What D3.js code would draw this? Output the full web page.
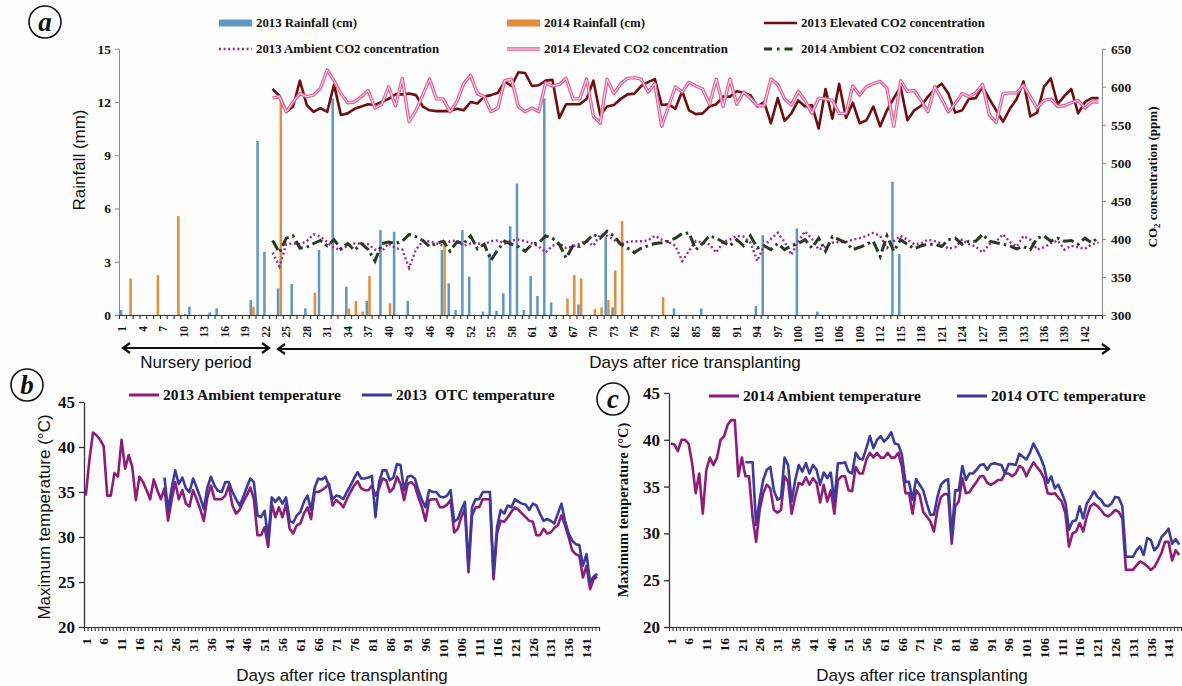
<!DOCTYPE html>
<html>
<head>
<meta charset="utf-8">
<script src="https://cdn.jsdelivr.net/npm/d3@7"></script>
<style>
  body { margin: 0; background: #fdfdfd; }
  svg { display: block; }
  .serif { font-family: "Liberation Serif", "Times New Roman", serif; font-weight: bold; }
  .sans { font-family: "Liberation Sans", Arial, sans-serif; }
</style>
</head>
<body>
<div id="chart"></div>
<script>
// ---------- data ----------
const dayCats = d3.range(1, 145);          // 144 days on every x axis
const aLabelDays = d3.range(1, 145, 3);    // 1,4,7,...,142
const bcLabelDays = d3.range(1, 145, 5);   // 1,6,11,...,141
const rainTicks = [0, 3, 6, 9, 12, 15];
const co2Ticks = [300, 350, 400, 450, 500, 550, 600, 650];
const tempTicks = [20, 25, 30, 35, 40, 45];

// rainfall bars (day, value)
const rain2013Days = [1, 11, 14, 15, 20, 21, 22, 24, 26, 28, 30, 32, 34, 37, 39, 41, 43, 48, 49, 50, 51, 52, 54, 55, 56, 57, 58, 59, 60, 61, 62, 63, 64, 68, 72, 73, 82, 86, 94, 95, 100, 103, 114, 115];
const rain2013Vals = [0.28, 0.47, 0.15, 0.37, 0.85, 9.8, 3.56, 1.5, 1.75, 0.37, 3.66, 12.2, 1.6, 0.79, 4.78, 4.69, 0.79, 3.66, 1.78, 0.28, 4.78, 2.16, 0.19, 3.47, 0.24, 1.22, 5.0, 7.41, 0.28, 2.2, 1.07, 12.2, 0.71, 0.6, 4.41, 0.43, 0.37, 0.37, 0.5, 4.5, 4.88, 0.19, 7.5, 3.43];
const rain2014Days = [2, 6, 9, 10, 20, 24, 29, 34, 35, 36, 37, 40, 48, 66, 67, 68, 70, 71, 72, 73, 74, 80];
const rain2014Vals = [2.06, 2.25, 5.57, 0.06, 0.47, 12.1, 1.26, 0.37, 0.79, 0.19, 2.2, 0.66, 4.2, 0.94, 2.25, 2.06, 0.32, 0.43, 0.84, 2.5, 5.3, 1.0];

// CO2 series, day 23 .. 144
const co2Start = 23;
const co2Elev2013 = [597, 588, 567, 574, 608, 576, 567, 572, 567, 603,
  563, 565, 571, 574, 577, 576, 580, 584, 590, 590,
  591, 589, 574, 569, 568, 568, 568, 571, 569, 580,
  578, 587, 589, 592, 607, 601, 619, 618, 601, 602,
  608, 609, 559, 577, 577, 577, 584, 608, 563, 574,
  576, 584, 590, 591, 601, 606, 610, 576, 577, 571,
  594, 569, 564, 565, 574, 577, 587, 587, 594, 592,
  589, 574, 580, 552, 585, 555, 565, 582, 574, 576,
  545, 597, 558, 604, 559, 579, 552, 556, 574, 548,
  569, 585, 600, 556, 569, 575, 587, 597, 604, 591,
  566, 569, 584, 585, 600, 584, 569, 554, 571, 584,
  607, 561, 566, 600, 611, 577, 588, 597, 565, 580,
  585, 585];
const co2Amb2013 = [382, 364, 393, 394, 393, 397, 406, 403, 396, 388,
  386, 391, 394, 394, 393, 386, 384, 394, 388, 386,
  362, 386, 397, 397, 394, 391, 397, 398, 391, 394,
  394, 393, 397, 398, 394, 398, 399, 397, 394, 390,
  382, 391, 394, 388, 390, 394, 397, 391, 406, 404,
  399, 393, 396, 397, 397, 398, 404, 399, 396, 391,
  371, 384, 397, 395, 393, 382, 396, 399, 404, 403,
  395, 371, 391, 400, 408, 396, 379, 397, 410, 400,
  386, 390, 395, 396, 396, 399, 401, 404, 408, 404,
  388, 397, 404, 399, 393, 394, 399, 397, 394, 387,
  389, 399, 393, 390, 382, 393, 397, 406, 396, 390,
  404, 399, 386, 389, 394, 398, 386, 391, 389, 387,
  393, 395];
const co2Elev2014 = [585, 587, 567, 580, 591, 587, 589, 598, 622, 608,
  591, 579, 580, 587, 595, 572, 577, 600, 575, 611,
  554, 569, 589, 610, 584, 584, 567, 580, 604, 615,
  591, 587, 567, 572, 608, 610, 574, 567, 572, 567,
  605, 601, 603, 611, 584, 584, 610, 561, 552, 610,
  591, 604, 611, 612, 610, 593, 604, 548, 574, 600,
  593, 606, 601, 597, 577, 610, 574, 610, 577, 593,
  585, 575, 575, 610, 603, 584, 576, 594, 582, 565,
  585, 584, 582, 565, 565, 601, 589, 600, 604, 607,
  598, 548, 608, 594, 595, 582, 567, 600, 584, 567,
  578, 591, 587, 592, 603, 563, 553, 591, 592, 592,
  602, 587, 572, 582, 584, 574, 575, 579, 582, 572,
  580, 580];
const co2Amb2014 = [398, 382, 401, 404, 388, 389, 394, 398, 391, 399,
  387, 394, 385, 394, 386, 371, 394, 396, 394, 397,
  406, 403, 398, 390, 394, 397, 384, 396, 394, 404,
  387, 393, 372, 386, 397, 393, 390, 384, 393, 395,
  404, 401, 393, 375, 391, 390, 397, 406, 401, 410,
  404, 393, 388, 382, 388, 391, 394, 395, 397, 401,
  407, 408, 386, 394, 404, 401, 396, 391, 399, 391,
  404, 388, 391, 386, 394, 386, 391, 394, 399, 388,
  401, 384, 403, 399, 395, 386, 389, 393, 397, 377,
  404, 384, 399, 393, 387, 391, 393, 393, 390, 399,
  401, 393, 397, 397, 406, 397, 395, 393, 391, 387,
  390, 386, 401, 404, 397, 401, 397, 398, 393, 401,
  395, 402];

// maximum temperature 2013 (panel b)
const tAmb2013 = [34.6, 38.5, 41.6, 41.3, 40.8, 40.1, 34.6, 34.6, 37.1, 36.7,
  40.8, 37.6, 39.1, 37.8, 34.1, 36.7, 36.1, 35.2, 34.2, 36.4,
  35.2, 34.2, 35.4, 31.8, 34.1, 36.1, 34.2, 35.2, 33.7, 33.4,
  35.2, 34.2, 33.1, 31.8, 34.4, 35.7, 34.2, 34.2, 34.2, 34.6,
  35.7, 33.5, 32.6, 33.0, 33.9, 34.6, 35.5, 34.2, 30.2, 30.2,
  31.1, 28.9, 33.7, 32.2, 33.3, 32.2, 33.7, 30.9, 30.4, 31.3,
  31.5, 32.6, 33.3, 32.0, 35.0, 35.0, 35.2, 35.5, 35.9, 33.5,
  34.1, 33.8, 33.3, 34.2, 35.0, 35.7, 36.2, 35.4, 35.2, 35.2,
  35.7, 34.6, 35.4, 36.5, 36.3, 35.0, 35.4, 36.7, 35.9, 34.1,
  35.9, 36.1, 35.7, 34.4, 33.3, 31.8, 34.1, 34.2, 34.2, 33.3,
  33.3, 33.6, 34.1, 30.5, 30.9, 32.2, 33.1, 26.1, 32.4, 33.3,
  33.3, 34.2, 34.2, 34.2, 25.3, 30.4, 31.8, 31.7, 32.2, 32.8,
  33.3, 33.0, 32.6, 32.2, 31.8, 31.7, 30.2, 30.2, 30.9, 30.4,
  30.5, 31.0, 31.3, 32.4, 31.3, 30.0, 28.5, 28.1, 27.9, 25.5,
  26.8, 24.2, 25.3, 25.6];
const tOtcStart2013 = 23;
const tOtc2013 = [36.6, 33.0, 35.4, 37.4, 35.9, 36.6, 35.4, 35.0, 36.5, 35.5,
  34.4, 33.1, 35.5, 36.7, 35.7, 35.1, 35.0, 36.1, 36.1, 35.0,
  34.2, 33.5, 34.4, 35.5, 36.5, 36.1, 32.4, 32.2, 32.9, 29.8,
  34.4, 33.9, 34.4, 33.7, 34.4, 31.8, 31.6, 32.4, 32.8, 33.9,
  34.6, 33.0, 35.5, 36.5, 36.4, 36.7, 35.7, 34.2, 34.6, 34.5,
  34.2, 35.0, 35.7, 36.5, 37.2, 36.5, 36.5, 36.6, 36.8, 32.2,
  36.1, 37.4, 37.4, 36.3, 36.6, 38.1, 38.0, 35.2, 36.7, 36.8,
  36.5, 35.2, 34.1, 33.3, 35.2, 35.0, 35.0, 34.5, 34.4, 34.6,
  35.2, 31.7, 32.0, 33.0, 33.9, 26.8, 33.3, 34.2, 34.2, 35.0,
  35.0, 35.0, 25.9, 31.1, 33.0, 32.6, 33.5, 33.3, 34.2, 33.9,
  33.7, 33.6, 33.0, 33.7, 33.5, 32.6, 31.8, 32.0, 31.8, 31.5,
  32.6, 33.7, 31.8, 30.4, 29.6, 29.2, 29.1, 26.8, 28.1, 25.0,
  25.6, 25.9];

// maximum temperature 2014 (panel c)
const tAmb2014 = [39.6, 39.5, 38.8, 40.0, 40.0, 39.6, 37.5, 34.3, 36.4, 32.1,
  36.8, 38.1, 37.3, 38.1, 40.0, 40.4, 41.6, 42.1, 42.1, 36.1,
  38.1, 36.1, 36.1, 31.8, 29.1, 32.5, 34.3, 35.2, 34.8, 32.5,
  32.2, 32.5, 36.1, 35.5, 32.1, 33.9, 35.4, 35.2, 36.0, 35.2,
  35.9, 35.4, 33.3, 35.2, 33.4, 34.6, 32.1, 35.7, 36.1, 36.1,
  34.6, 34.5, 37.1, 36.4, 36.4, 37.9, 38.6, 38.1, 38.6, 38.1,
  38.1, 38.6, 38.1, 38.1, 38.6, 37.1, 34.3, 34.3, 32.1, 34.6,
  34.1, 32.3, 31.8, 31.3, 30.2, 32.5, 33.9, 34.2, 34.2, 28.9,
  32.9, 33.4, 35.9, 34.3, 34.4, 35.0, 35.5, 36.1, 36.1, 35.4,
  35.2, 35.4, 35.7, 35.7, 36.4, 36.4, 36.1, 36.4, 37.2, 37.0,
  36.1, 36.9, 37.6, 37.1, 36.6, 35.9, 34.3, 34.2, 34.3, 33.8,
  33.4, 32.1, 28.6, 30.0, 30.2, 31.1, 30.2, 31.8, 32.9, 33.2,
  32.9, 32.5, 32.0, 31.8, 32.1, 32.5, 32.3, 31.6, 26.1, 26.1,
  26.1, 26.6, 27.0, 26.8, 26.5, 26.1, 26.4, 27.1, 27.9, 29.1,
  29.1, 27.1, 28.2, 27.7];
const tOtcStart2014 = 22;
const tOtc2014 = [37.6, 37.6, 37.6, 30.9, 33.6, 35.7, 36.8, 37.1, 34.6, 33.6,
  33.8, 38.1, 37.3, 33.4, 35.7, 37.3, 36.6, 37.5, 36.4, 37.3,
  36.8, 35.2, 36.5, 35.9, 36.5, 33.4, 37.5, 37.5, 37.6, 36.6,
  36.4, 38.6, 38.0, 37.9, 39.1, 40.4, 39.1, 40.0, 40.4, 39.8,
  40.2, 40.8, 39.6, 39.5, 38.4, 35.5, 35.5, 33.6, 35.8, 35.2,
  34.6, 33.2, 32.0, 32.0, 33.9, 35.2, 35.6, 35.8, 29.6, 34.6,
  34.6, 37.2, 35.7, 36.4, 36.4, 36.8, 37.3, 37.4, 36.8, 37.4,
  37.5, 37.4, 37.3, 36.4, 37.4, 37.4, 37.3, 38.5, 38.2, 37.9,
  38.6, 39.6, 38.9, 38.1, 37.1, 35.4, 36.1, 34.8, 35.2, 34.3,
  33.3, 30.4, 31.3, 31.4, 32.9, 31.6, 33.2, 33.8, 34.5, 33.9,
  33.6, 33.0, 32.9, 33.2, 33.9, 33.8, 32.9, 27.5, 27.5, 27.5,
  28.2, 28.6, 27.7, 29.5, 29.3, 28.2, 28.6, 29.6, 30.0, 30.5,
  28.9, 29.4, 28.8];

// ---------- colours ----------
const cBlue = "#5f96c2", cOrange = "#e38d3a";
const cElev13 = "#6e0e10", cAmb13 = "#9a2798", cElev14 = "#e2619a", cAmb14 = "#263b1f";
const cAmbT = "#8e1c7a", cOtcT = "#3d3b99";

const svg = d3.select("#chart").append("svg")
  .attr("width", 1182).attr("height", 686);
svg.append("rect").attr("width", 1182).attr("height", 686).attr("fill", "#fdfdfd");

function series(start, vals) {
  return vals.map((v, i) => ({ day: start + i, v: v }));
}

// category x axis: a tick on every day edge, rotated labels on chosen days
function dayAxis(xBand, y0, labelDays, fontSize, color) {
  const r = xBand.range();
  const edge = d3.scaleLinear().domain([0.5, dayCats.length + 0.5]).range(r);
  const g = svg.append("g").attr("transform", "translate(0," + y0 + ")");
  g.append("g")
    .call(d3.axisBottom(edge).tickValues(d3.range(0.5, dayCats.length + 1, 1))
      .tickSize(4).tickSizeOuter(0).tickFormat(""))
    .call(s => s.selectAll("line,path").attr("stroke", color).attr("stroke-width", 1.1));
  g.append("g")
    .call(d3.axisBottom(xBand).tickValues(labelDays).tickSize(0))
    .call(s => s.select(".domain").remove())
    .selectAll("text")
      .attr("class", "serif")
      .attr("font-size", fontSize)
      .attr("fill", "#111")
      .attr("transform", "rotate(-90)")
      .attr("text-anchor", "end")
      .attr("x", -11).attr("y", 0).attr("dy", "0.35em");
}

function circled(letter, cx, cy) {
  svg.append("circle").attr("cx", cx).attr("cy", cy).attr("r", 16)
    .attr("fill", "none").attr("stroke", "#111").attr("stroke-width", 1.6);
  svg.append("text").attr("x", cx).attr("y", cy).attr("dy", "0.33em")
    .attr("text-anchor", "middle").attr("font-style", "italic")
    .attr("class", "serif").attr("font-size", 27).attr("fill", "#111").text(letter);
}

// ================= panel a =================
const aLeft = 119, aRight = 1102, aTop = 48.7, aBottom = 315;
const xA = d3.scaleBand().domain(dayCats).range([aLeft, aRight]);
const bwA = xA.bandwidth();
const xSub = d3.scaleBand().domain(["2013", "2014"]).range([0, bwA]).paddingInner(0.08).paddingOuter(0.3);
const yRain = d3.scaleLinear().domain([0, 15]).range([aBottom, aTop]);
const yCO2 = d3.scaleLinear().domain([300, 650]).range([aBottom, aTop]);
const cx = d => xA(d) + bwA / 2;

// left axis
svg.append("g").attr("transform", "translate(" + aLeft + ",0)")
  .call(d3.axisLeft(yRain).tickValues(rainTicks).tickSize(4).tickSizeOuter(0))
  .call(s => s.selectAll("line,path").attr("stroke", "#8a8a8a"))
  .selectAll("text").attr("class", "serif").attr("font-size", 13.5).attr("fill", "#111").attr("x", -8);
// right axis
svg.append("g").attr("transform", "translate(" + aRight + ",0)")
  .call(d3.axisRight(yCO2).tickValues(co2Ticks).tickSize(4).tickSizeOuter(0))
  .call(s => s.selectAll("line,path").attr("stroke", "#8a8a8a"))
  .selectAll("text").attr("class", "serif").attr("font-size", 13.5).attr("fill", "#111").attr("x", 9);

// rainfall bars
svg.append("g").selectAll("rect").data(rain2013Days.map((d, i) => ({ day: d, v: rain2013Vals[i] })))
  .join("rect")
  .attr("x", d => xA(d.day) + xSub("2013")).attr("width", xSub.bandwidth())
  .attr("y", d => yRain(d.v)).attr("height", d => yRain(0) - yRain(d.v))
  .attr("fill", cBlue);
svg.append("g").selectAll("rect").data(rain2014Days.map((d, i) => ({ day: d, v: rain2014Vals[i] })))
  .join("rect")
  .attr("x", d => xA(d.day) + xSub("2014")).attr("width", xSub.bandwidth())
  .attr("y", d => yRain(d.v)).attr("height", d => yRain(0) - yRain(d.v))
  .attr("fill", cOrange);

const co2Line = d3.line().x(d => cx(d.day)).y(d => yCO2(d.v));
svg.append("path").attr("d", co2Line(series(co2Start, co2Elev2013)))
  .attr("fill", "none").attr("stroke", cElev13).attr("stroke-width", 2.6).attr("stroke-linejoin", "round");
svg.append("path").attr("d", co2Line(series(co2Start, co2Amb2013)))
  .attr("fill", "none").attr("stroke", cAmb13).attr("stroke-width", 2.4).attr("stroke-dasharray", "2,2.6");
svg.append("path").attr("d", co2Line(series(co2Start, co2Elev2014)))
  .attr("fill", "none").attr("stroke", cElev14).attr("stroke-width", 3.4).attr("stroke-linejoin", "round");
svg.append("path").attr("d", co2Line(series(co2Start, co2Elev2014)))
  .attr("fill", "none").attr("stroke", "#fbe6ef").attr("stroke-width", 1).attr("stroke-linejoin", "round");
svg.append("path").attr("d", co2Line(series(co2Start, co2Amb2014)))
  .attr("fill", "none").attr("stroke", cAmb14).attr("stroke-width", 3).attr("stroke-dasharray", "11,4,2.5,4");

dayAxis(xA, aBottom, aLabelDays, 11.5, "#333");

// axis titles
svg.append("text").attr("class", "sans").attr("font-size", 17).attr("fill", "#111")
  .attr("transform", "translate(85,160) rotate(-90)").attr("text-anchor", "middle").text("Rainfall (mm)");
const co2Title = svg.append("text").attr("class", "serif").attr("font-size", 13).attr("fill", "#111")
  .attr("transform", "translate(1157,177) rotate(-90)").attr("text-anchor", "middle");
co2Title.append("tspan").text("CO");
co2Title.append("tspan").attr("font-size", 9).attr("dy", 3).text("2");
co2Title.append("tspan").attr("dy", -3).text(" concentration (ppm)");

// period arrows
function arrow(x0, x1, y) {
  const g = svg.append("g").attr("stroke", "#111").attr("stroke-width", 2.2).attr("fill", "none");
  g.append("line").attr("x1", x0 + 1).attr("x2", x1 - 1).attr("y1", y).attr("y2", y);
  g.append("polyline").attr("points", [[x0 + 8, y - 5], [x0 + 1, y], [x0 + 8, y + 5]].join(" "));
  g.append("polyline").attr("points", [[x1 - 8, y - 5], [x1 - 1, y], [x1 - 8, y + 5]].join(" "));
}
arrow(122, 270, 348);
arrow(277, 1110, 349);
svg.append("text").attr("class", "sans").attr("font-size", 17).attr("fill", "#111")
  .attr("x", 196).attr("y", 368).attr("text-anchor", "middle").text("Nursery period");
svg.append("text").attr("class", "sans").attr("font-size", 17).attr("fill", "#111")
  .attr("x", 695).attr("y", 368).attr("text-anchor", "middle").text("Days after rice transplanting");

// legend a
const aLegend = [
  { x: 219, y: 23, type: "bar", color: cBlue, label: "2013 Rainfall (cm)" },
  { x: 507, y: 23, type: "bar", color: cOrange, label: "2014 Rainfall (cm)" },
  { x: 764, y: 23, type: "solid", color: cElev13, label: "2013 Elevated CO2 concentration" },
  { x: 219, y: 49, type: "dot", color: cAmb13, label: "2013 Ambient CO2 concentration" },
  { x: 507, y: 49, type: "double", color: cElev14, label: "2014 Elevated CO2 concentration" },
  { x: 764, y: 49, type: "dashdot", color: cAmb14, label: "2014 Ambient CO2 concentration" }
];
aLegend.forEach(it => {
  const w = 33;
  if (it.type === "bar") {
    svg.append("rect").attr("x", it.x).attr("y", it.y - 3.5).attr("width", w).attr("height", 7).attr("fill", it.color);
  } else {
    const ln = svg.append("line").attr("x1", it.x).attr("x2", it.x + w).attr("y1", it.y).attr("y2", it.y)
      .attr("stroke", it.color).attr("stroke-width", it.type === "double" ? 3.4 : 2.6);
    if (it.type === "dot") ln.attr("stroke-dasharray", "2,2.6");
    if (it.type === "dashdot") ln.attr("stroke-dasharray", "8,5,2.5,5").attr("stroke-width", 3);
    if (it.type === "double") svg.append("line").attr("x1", it.x).attr("x2", it.x + w).attr("y1", it.y).attr("y2", it.y)
      .attr("stroke", "#fbe6ef").attr("stroke-width", 1);
  }
  svg.append("text").attr("class", "serif").attr("font-size", 12.8).attr("fill", "#111")
    .attr("x", it.x + w + 4).attr("y", it.y).attr("dy", "0.35em").text(it.label);
});
circled("a", 45, 22);

// ================= panels b and c =================
function tempPanel(opt) {
  const x = d3.scaleBand().domain(dayCats).range([opt.left, opt.right]);
  const y = d3.scaleLinear().domain([20, 45]).range([opt.bottom, opt.top]);
  const bw = x.bandwidth();
  svg.append("g").attr("transform", "translate(" + opt.left + ",0)")
    .call(d3.axisLeft(y).tickValues(tempTicks).tickSize(5).tickSizeOuter(0))
    .call(s => s.selectAll("line,path").attr("stroke", "#333").attr("stroke-width", 1.3))
    .selectAll("text").attr("class", "serif").attr("font-size", 17).attr("fill", "#111").attr("x", -9);
  dayAxis(x, opt.bottom, bcLabelDays, 13.5, "#333");

  const line = d3.line().x(d => x(d.day) + bw / 2).y(d => y(d.v)).curve(d3.curveLinear);
  svg.append("path").attr("d", line(series(1, opt.amb)))
    .attr("fill", "none").attr("stroke", cAmbT).attr("stroke-width", 2.6).attr("stroke-linejoin", "round");
  svg.append("path").attr("d", line(series(opt.otcStart, opt.otc)))
    .attr("fill", "none").attr("stroke", cOtcT).attr("stroke-width", 2.6).attr("stroke-linejoin", "round");

  // legend
  [[opt.legAmbX, cAmbT, opt.ambLabel], [opt.legOtcX, cOtcT, opt.otcLabel]].forEach(([lx, col, lab]) => {
    svg.append("line").attr("x1", lx).attr("x2", lx + 30).attr("y1", opt.legY).attr("y2", opt.legY)
      .attr("stroke", col).attr("stroke-width", 3);
    svg.append("text").attr("class", "serif").attr("font-size", 15.5).attr("fill", "#111")
      .attr("xml:space", "preserve")
      .attr("x", lx + 34).attr("y", opt.legY).attr("dy", "0.35em").text(lab);
  });
  svg.append("text").attr("class", "sans").attr("font-size", 17).attr("fill", "#111")
    .attr("x", opt.titleX).attr("y", 681).attr("text-anchor", "middle").text("Days after rice transplanting");
}

tempPanel({
  left: 84, right: 599, top: 402, bottom: 627,
  amb: tAmb2013, otc: tOtc2013, otcStart: tOtcStart2013,
  legY: 395, legAmbX: 129, legOtcX: 362,
  ambLabel: "2013 Ambient temperature", otcLabel: "2013  OTC temperature",
  titleX: 342
});
svg.append("text").attr("class", "sans").attr("font-size", 17).attr("fill", "#111")
  .attr("transform", "translate(50,517) rotate(-90)").attr("text-anchor", "middle").text("Maximum temperature (°C)");
circled("b", 27, 385);

tempPanel({
  left: 669, right: 1181, top: 393, bottom: 627,
  amb: tAmb2014, otc: tOtc2014, otcStart: tOtcStart2014,
  legY: 396, legAmbX: 709, legOtcX: 957,
  ambLabel: "2014 Ambient temperature", otcLabel: "2014 OTC temperature",
  titleX: 922
});
svg.append("text").attr("class", "serif").attr("font-size", 14.5).attr("fill", "#111")
  .attr("transform", "translate(628,510) rotate(-90)").attr("text-anchor", "middle").text("Maximum temperature (°C)");
circled("c", 613, 399);
</script>
</body>
</html>
